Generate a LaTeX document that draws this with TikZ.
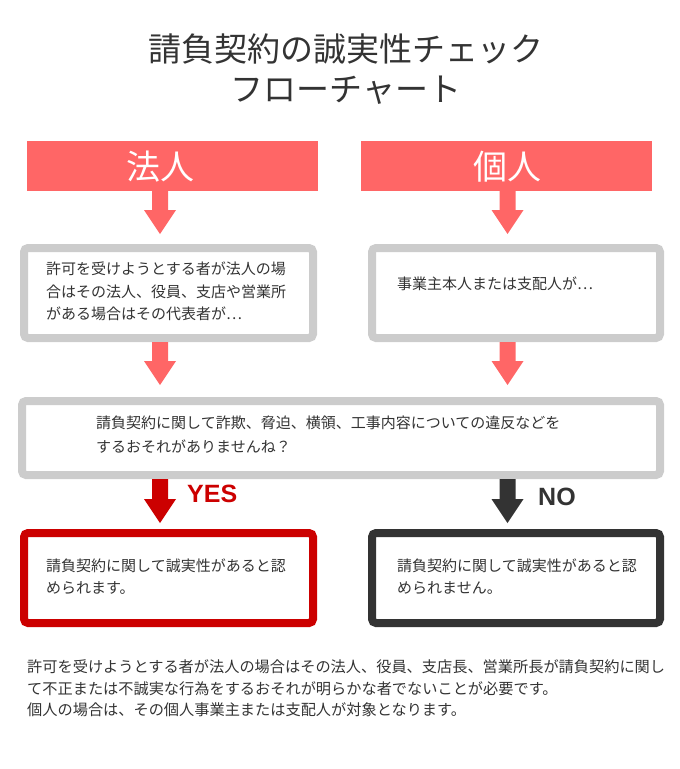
\documentclass[tikz,border=0pt]{standalone}
\usepackage{fontspec}
\setmainfont{Noto Sans CJK JP}
\newfontfamily\yesnofont{Liberation Sans}
\usetikzlibrary{calc}
\definecolor{salmon}{HTML}{FF6666}
\definecolor{boxgrey}{HTML}{CCCCCC}
\definecolor{yesred}{HTML}{CC0000}
\definecolor{nodark}{HTML}{333333}
\definecolor{txt}{HTML}{333333}
\begin{document}
\begin{tikzpicture}[x=1pt,y=-1pt,
  titletext/.style={text=txt, font=\fontsize{33}{40}\selectfont, align=center, inner sep=0pt},
  header/.style={fill=salmon, draw=none, minimum width=291pt, minimum height=50pt, inner sep=0pt},
  headtext/.style={text=white, font=\fontsize{34}{40}\selectfont, inner sep=0pt},
  panel/.style={draw=#1, line width=8pt, rounded corners=4pt, fill=white, inner sep=0pt},
  body/.style={text=txt, font=\fontsize{15}{22.5}\selectfont, align=left, anchor=west, inner sep=0pt},
  yesno/.style={font=\yesnofont\bfseries\fontsize{25}{30}\selectfont, anchor=west, inner sep=0pt},
  blockarrow/.style={to path={let \p1=(\tikztostart), \p2=(\tikztotarget) in
    (\x1-8pt,\y1) -- (\x1-8pt,\y2+#1+24pt) -- (\x1-16pt,\y2+#1+24pt) -- (\x1,\y2+#1)
    -- (\x1+16pt,\y2+#1+24pt) -- (\x1+8pt,\y2+#1+24pt) -- (\x1+8pt,\y1) -- cycle}}
]
\useasboundingbox (0,0) rectangle (680,769);

\coordinate (colL) at (160,0);
\coordinate (colR) at (507.5,0);

% title
\node[titletext] (title) at (346,69) {請負契約の誠実性チェック\\フローチャート};

% headers
\node[header] (hl) at (172.5,166) {};
\node[headtext] (hlt) at (160,167) {法人};
\node[header] (hr) at (506.5,166) {};
\node[headtext] (hrt) at (507,167) {個人};

% second row
\node[panel=boxgrey, minimum width=289pt, minimum height=90pt] (b1) at (168.5,293) {};
\node[body] (b1t) at (46,291.5) {許可を受けようとする者が法人の場\\合はその法人、役員、支店や営業所\\がある場合はその代表者が…};
\node[panel=boxgrey, minimum width=288pt, minimum height=90pt] (b2) at (516,293) {};
\node[body] (b2t) at (397,284) {事業主本人または支配人が…};

% question
\node[panel=boxgrey, minimum width=638pt, minimum height=74pt] (q) at (341,438) {};
\node[body, font=\fontsize{15}{24}\selectfont] (qt) at (96,435) {請負契約に関して詐欺、脅迫、横領、工事内容についての違反などを\\するおそれがありませんね？};

% results
\node[panel=yesred, minimum width=289pt, minimum height=90pt] (r1) at (168.5,578) {};
\node[body, font=\fontsize{15}{21.5}\selectfont] (r1t) at (46,576.5) {請負契約に関して誠実性があると認\\められます。};
\node[panel=nodark, minimum width=288pt, minimum height=90pt] (r2) at (516,578) {};
\node[body, font=\fontsize{15}{21.5}\selectfont] (r2t) at (397,576.5) {請負契約に関して誠実性があると認\\められません。};

% yes / no labels
\node[yesno, text=yesred] (yes) at (187,494) {YES};
\node[yesno, text=nodark] (no) at (538,497) {NO};

% arrow start points
\coordinate (s1) at (hl.south -| colL);
\coordinate (s2) at (hr.south -| colR);
\coordinate (s3) at (b1.south -| colL);
\coordinate (s4) at (b2.south -| colR);
\coordinate (s5) at (q.south -| colL);
\coordinate (s6) at (q.south -| colR);

\fill[salmon] (s1) to[blockarrow=10pt] (b1.north);
\fill[salmon] (s2) to[blockarrow=10pt] (b2.north);
\fill[salmon] (s3) to[blockarrow=12pt] (q.north);
\fill[salmon] (s4) to[blockarrow=12pt] (q.north);
\fill[yesred] (s5) to[blockarrow=6pt] (r1.north);
\fill[nodark] (s6) to[blockarrow=6pt] (r2.north);

% note
\node[body, font=\fontsize{15.2}{21.5}\selectfont] (note) at (27,688.5) {許可を受けようとする者が法人の場合はその法人、役員、支店長、営業所長が請負契約に関し\\て不正または不誠実な行為をするおそれが明らかな者でないことが必要です。\\個人の場合は、その個人事業主または支配人が対象となります。};
\end{tikzpicture}
\end{document}
